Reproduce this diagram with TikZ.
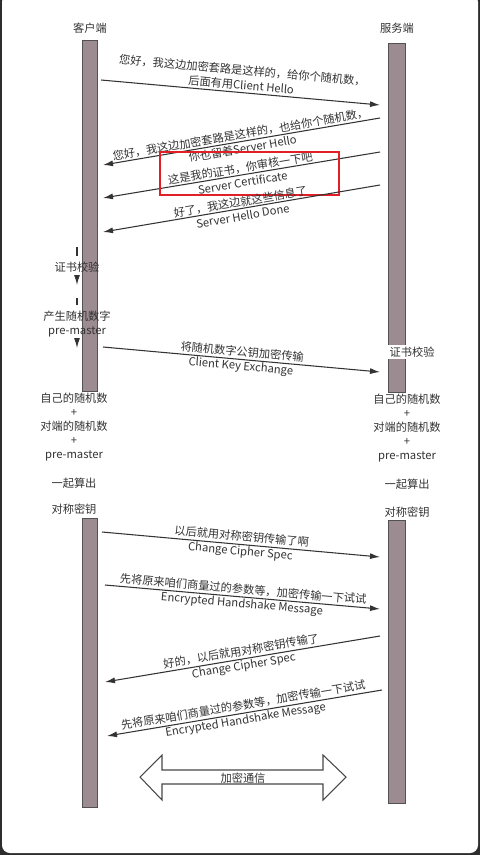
\documentclass[tikz,border=0pt]{standalone}
\usepackage{fontspec}
\newfontfamily\cjk{Noto Sans CJK SC}
\definecolor{hsink}{RGB}{51,51,51}
\definecolor{hsbar}{RGB}{156,139,145}
\definecolor{hsframe}{RGB}{45,45,45}
\definecolor{hsred}{RGB}{226,30,38}
\usetikzlibrary{arrows.meta}

\begin{document}
\begin{tikzpicture}[x=0.02cm,y=-0.02cm,
  every node/.style={font=\cjk\fontsize{6.4}{8.2}\selectfont,text=hsink},
  lbl/.style={align=center,sloped,inner sep=1pt},
  msg/.style={-{Latex[length=2mm,width=1.2mm]},hsink,line width=0.6pt},
  lifebar/.style={draw=hsink!85,fill=hsbar,line width=0.5pt},
  stack/.style={align=center,font=\cjk\fontsize{6.4}{8}\selectfont}
]
  \useasboundingbox (0,0) rectangle (480,855);
  % Frame
  \fill[hsframe] (0,0) rectangle (480,855);
  \fill[white,rounded corners=4.5pt] (2,-6) rectangle (478,853);

  % Lifelines
  \node (client) at (90,28) {客户端};
  \node (server) at (397,28) {服务端};
  \draw[lifebar] (82,40) rectangle (97,391);
  \draw[lifebar] (82,518) rectangle (97,807);
  \draw[lifebar] (388,43) rectangle (405,392);
  \draw[lifebar] (388,520) rectangle (405,803);

  % Handshake messages
  \coordinate (hello-c) at (101,80);
  \coordinate (hello-s) at (380,105);
  \draw[msg] (hello-c) -- node[lbl,anchor=south]{您好，我这边加密套路是这样的，给你个随机数，\\后面有用Client Hello} (hello-s);

  \coordinate (shello-s) at (380,118);
  \coordinate (shello-c) at (103,165);
  \draw[msg] (shello-s) -- node[lbl]{您好，我这边加密套路是这样的，也给你个随机数，\\你也留着Server Hello} (shello-c);

  \coordinate (cert-s) at (380,152);
  \coordinate (cert-c) at (103,198);
  \draw[msg] (cert-s) -- node[lbl]{这是我的证书，你审核一下吧\\Server Certificate} (cert-c);
  \draw[hsred,line width=1.1pt] (160,152) rectangle (339,195);

  \coordinate (done-s) at (380,185);
  \coordinate (done-c) at (103,232);
  \draw[msg] (done-s) -- node[lbl]{好了，我这边就这些信息了\\Server Hello Done} (done-c);

  % Client side checks
  \coordinate (verify-top) at (77,247);
  \node (verify) at (77,267) {证书校验};
  \coordinate (verify-end) at (77,285);
  \draw[hsink,line width=0.6pt] (verify-top) -- (verify);
  \draw[msg] (verify) -- (verify-end);

  \coordinate (pre-top) at (77,298);
  \node[align=center] (pre) at (77,324) {产生随机数字\\pre-master};
  \coordinate (pre-end) at (77,348);
  \draw[hsink,line width=0.6pt] (pre-top) -- (pre);
  \draw[msg] (pre) -- (pre-end);

  \coordinate (kex-c) at (103,347);
  \coordinate (kex-s) at (380,372);
  \draw[msg] (kex-c) -- node[lbl]{将随机数字公钥加密传输\\Client Key Exchange} (kex-s);
  \node[fill=white,inner sep=1pt] (sverify) at (412,352) {证书校验};

  % Session key on both sides
  \node[stack] (cmix) at (74,427) {自己的随机数\\+\\对端的随机数\\+\\pre-master};
  \node (cjoin) at (74,483) {一起算出};
  \node (ckey) at (74,509) {对称密钥};
  \node[stack] (smix) at (407,428) {自己的随机数\\+\\对端的随机数\\+\\pre-master};
  \node (sjoin) at (407,484) {一起算出};
  \node (skey) at (407,512) {对称密钥};

  % Finish
  \coordinate (ccs-c) at (102,532);
  \coordinate (ccs-s) at (380,557);
  \draw[msg] (ccs-c) -- node[lbl]{以后就用对称密钥传输了啊\\Change Cipher Spec} (ccs-s);

  \coordinate (fin-c) at (105,585);
  \coordinate (fin-s) at (380,609);
  \draw[msg] (fin-c) -- node[lbl]{先将原来咱们商量过的参数等，加密传输一下试试\\Encrypted Handshake Message} (fin-s);

  \coordinate (sccs-s) at (380,636);
  \coordinate (sccs-c) at (105,682);
  \draw[msg] (sccs-s) -- node[lbl]{好的，以后就用对称密钥传输了\\Change Cipher Spec} (sccs-c);

  \coordinate (sfin-s) at (382,690);
  \coordinate (sfin-c) at (107,736);
  \draw[msg] (sfin-s) -- node[lbl]{先将原来咱们商量过的参数等，加密传输一下试试\\Encrypted Handshake Message} (sfin-c);

  % Encrypted traffic
  \draw[fill=white,draw=hsink!90,line width=0.6pt] (140,777) -- (162,755) -- (162,770) -- (323,770) -- (323,755)
    -- (346,777) -- (323,800) -- (323,784) -- (162,784) -- (162,800) -- cycle;
  \node (secure) at (243,778) {加密通信};
\end{tikzpicture}
\end{document}
